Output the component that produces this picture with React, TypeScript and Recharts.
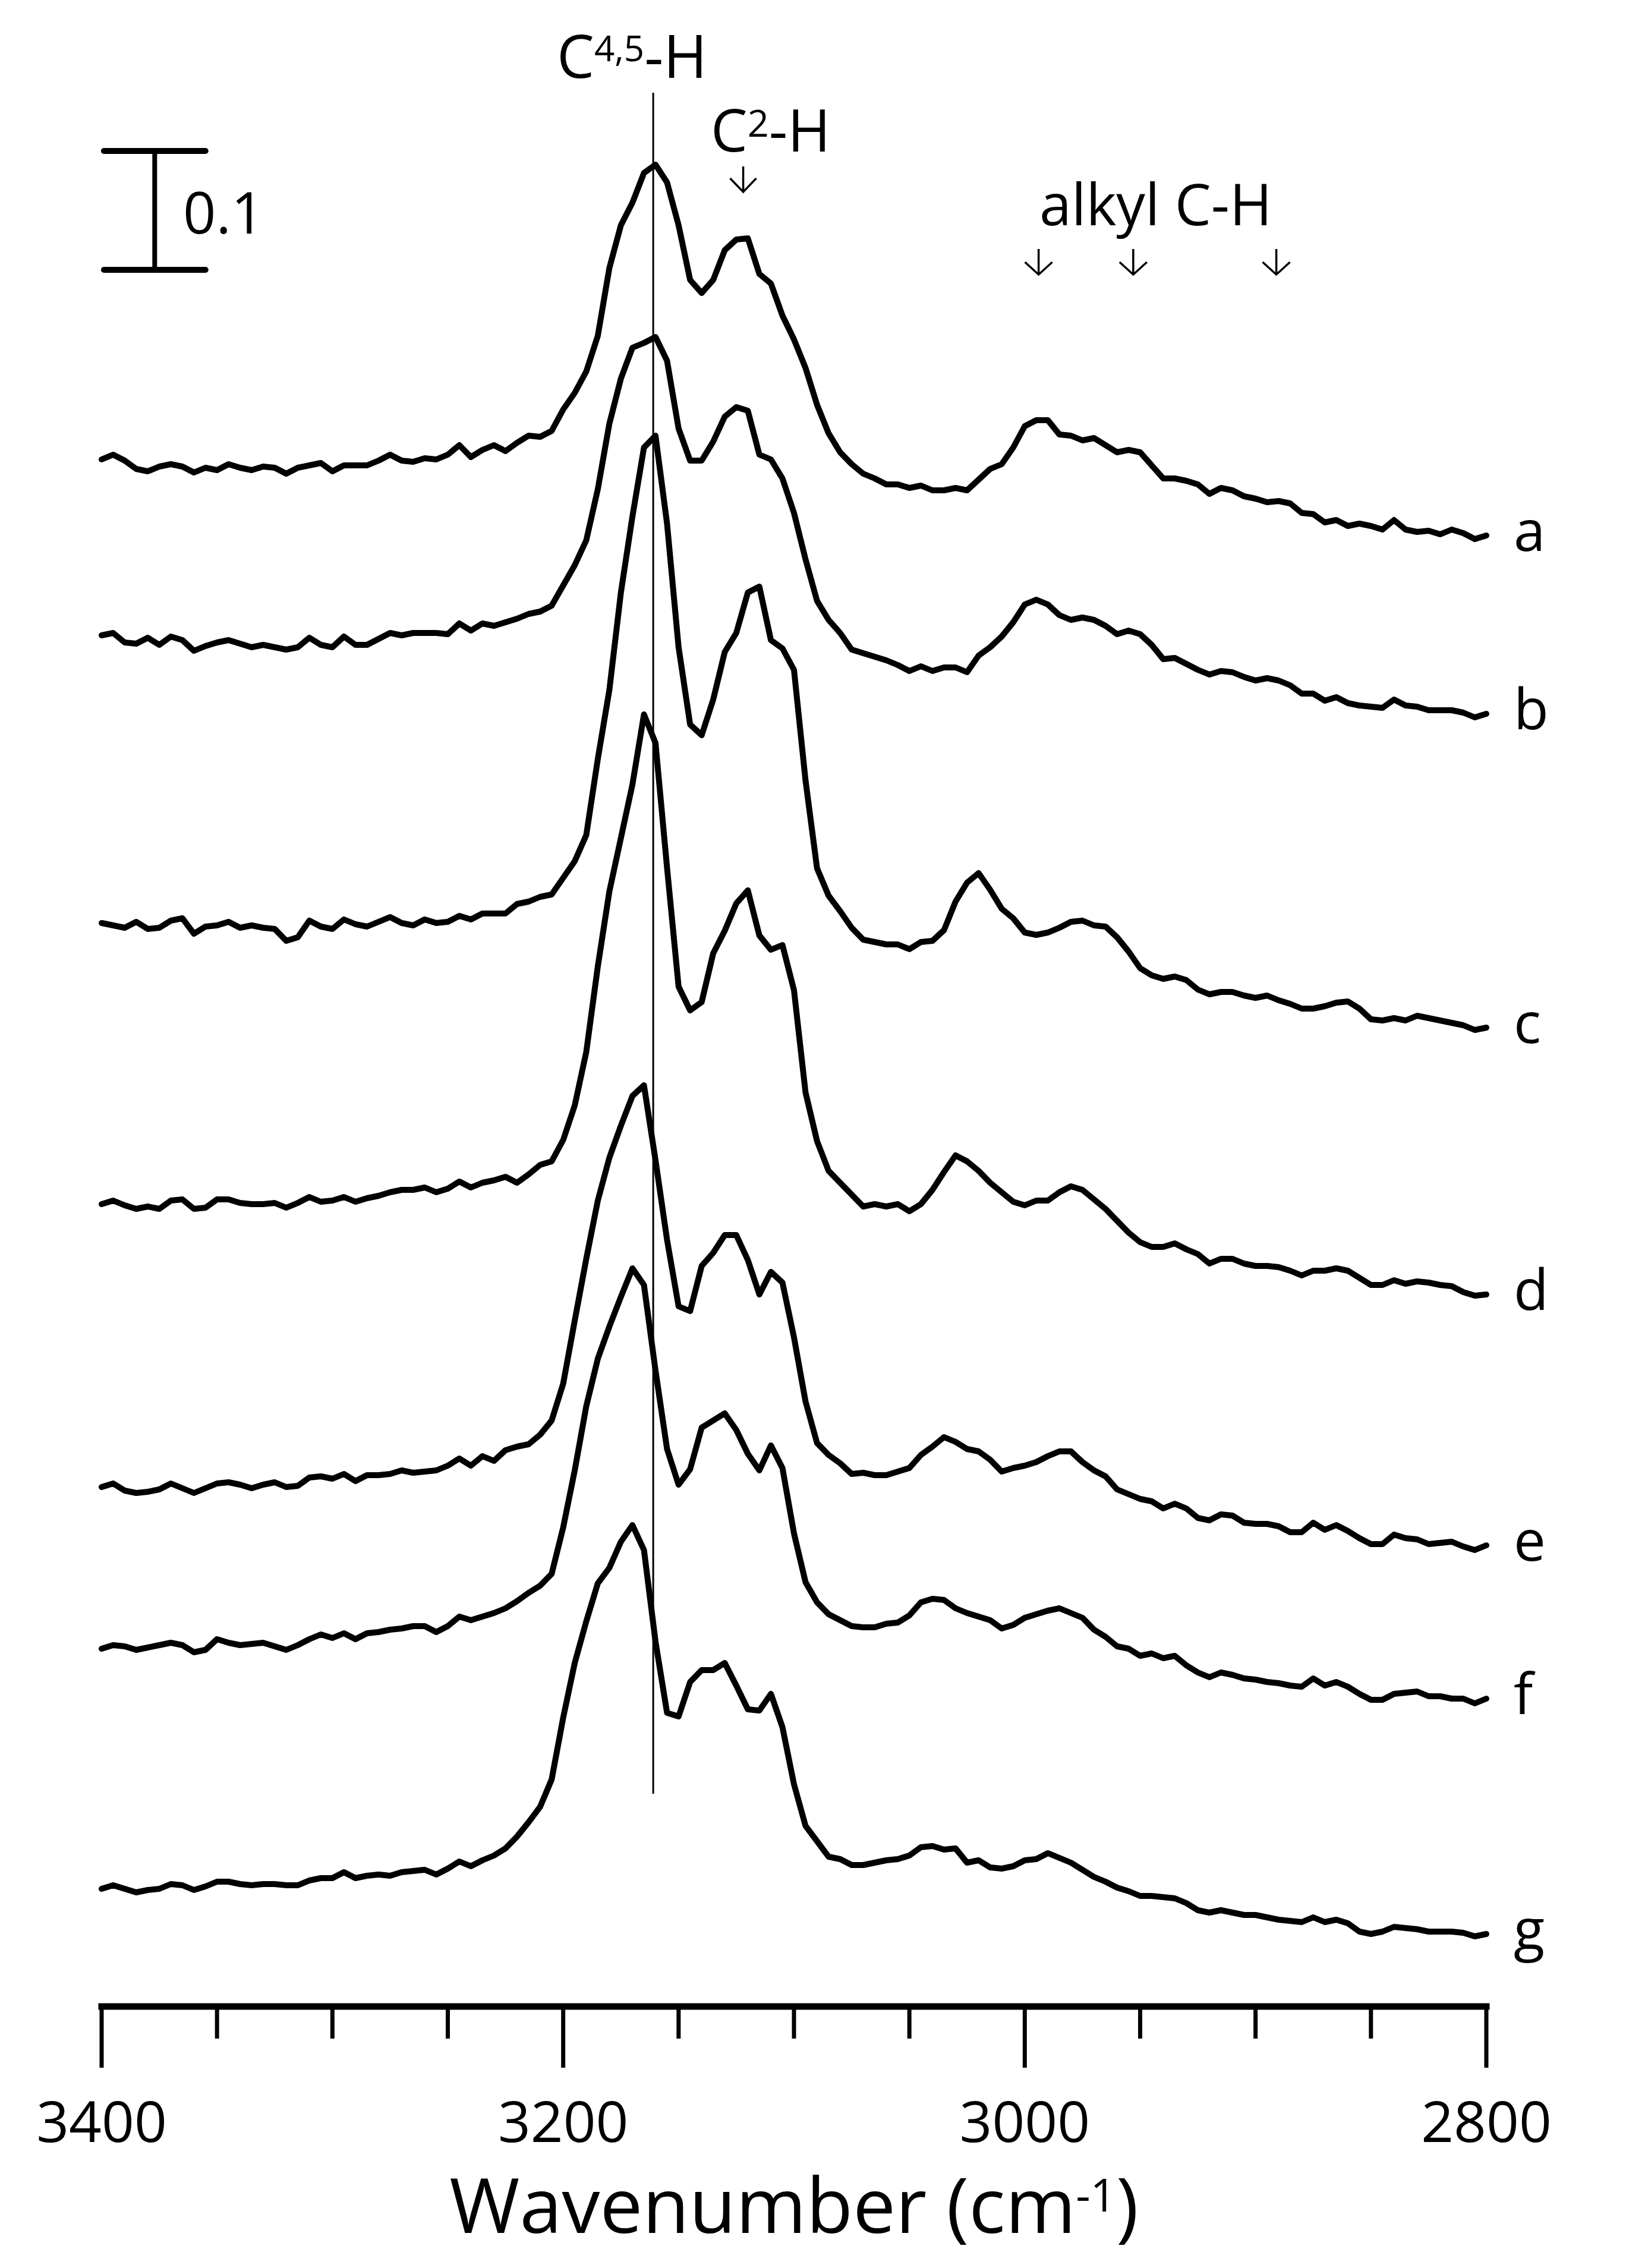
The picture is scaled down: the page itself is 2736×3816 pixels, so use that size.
import React from 'react';
import { LineChart, Line, XAxis, YAxis, ReferenceLine } from 'recharts';

// wavenumber grid (cm-1), 5 cm-1 steps from 3400 down to 2800
const wavenumbers = [
  3400, 3395, 3390, 3385, 3380, 3375, 3370, 3365, 3360, 3355,
  3350, 3345, 3340, 3335, 3330, 3325, 3320, 3315, 3310, 3305,
  3300, 3295, 3290, 3285, 3280, 3275, 3270, 3265, 3260, 3255,
  3250, 3245, 3240, 3235, 3230, 3225, 3220, 3215, 3210, 3205,
  3200, 3195, 3190, 3185, 3180, 3175, 3170, 3165, 3160, 3155,
  3150, 3145, 3140, 3135, 3130, 3125, 3120, 3115, 3110, 3105,
  3100, 3095, 3090, 3085, 3080, 3075, 3070, 3065, 3060, 3055,
  3050, 3045, 3040, 3035, 3030, 3025, 3020, 3015, 3010, 3005,
  3000, 2995, 2990, 2985, 2980, 2975, 2970, 2965, 2960, 2955,
  2950, 2945, 2940, 2935, 2930, 2925, 2920, 2915, 2910, 2905,
  2900, 2895, 2890, 2885, 2880, 2875, 2870, 2865, 2860, 2855,
  2850, 2845, 2840, 2835, 2830, 2825, 2820, 2815, 2810, 2805,
  2800,
];

// absorbance x1000, relative to each spectrum's value at 3400 cm-1
const specA = [
  0, 4, -1, -8, -10, -6, -4, -6, -11, -7,
  -9, -4, -7, -9, -6, -7, -12, -7, -5, -3,
  -10, -5, -5, -5, -1, 4, -1, -2, 1, 0,
  4, 12, 2, 8, 12, 7, 14, 20, 19, 24,
  42, 56, 74, 104, 161, 197, 216, 241, 248, 233,
  197, 151, 140, 151, 176, 185, 186, 156, 148, 121,
  101, 77, 46, 22, 6, -4, -12, -16, -21, -21,
  -24, -22, -26, -26, -24, -26, -17, -8, -4, 10,
  28, 33, 33, 21, 20, 16, 18, 12, 6, 8,
  6, -5, -16, -16, -18, -21, -29, -24, -26, -31,
  -33, -36, -35, -37, -45, -46, -53, -51, -56, -54,
  -56, -59, -51, -59, -61, -60, -63, -59, -62, -67,
  -64,
];
const specB = [
  0, 2, -6, -7, -2, -8, -1, -4, -13, -9,
  -6, -4, -7, -10, -8, -10, -12, -10, -2, -8,
  -10, -1, -8, -8, -3, 2, 0, 2, 2, 2,
  1, 10, 4, 10, 8, 11, 14, 18, 20, 25,
  42, 59, 80, 123, 178, 216, 242, 246, 251, 231,
  174, 147, 147, 163, 184, 192, 189, 152, 148, 132,
  103, 64, 29, 13, 2, -12, -15, -18, -21, -25,
  -30, -26, -30, -27, -27, -31, -17, -10, -1, 11,
  26, 30, 26, 17, 13, 15, 13, 8, 1, 4,
  1, -8, -20, -19, -24, -29, -33, -30, -31, -35,
  -38, -36, -38, -42, -49, -49, -55, -52, -57, -59,
  -60, -61, -54, -59, -60, -63, -63, -63, -65, -69,
  -66,
];
const specC = [
  0, -2, -4, 1, -5, -4, 2, 4, -9, -3,
  -2, 1, -4, -2, -4, -5, -15, -12, 2, -3,
  -5, 3, -1, -3, 1, 5, 0, -2, 3, 0,
  1, 6, 3, 8, 8, 8, 16, 18, 22, 24,
  38, 52, 74, 138, 196, 278, 342, 400, 410, 336,
  232, 167, 158, 188, 228, 244, 278, 283, 238, 231,
  213, 120, 46, 23, 10, -4, -14, -16, -18, -18,
  -22, -16, -15, -6, 18, 34, 42, 28, 12, 4,
  -8, -10, -8, -4, 1, 2, -2, -3, -12, -24,
  -38, -44, -47, -45, -48, -56, -60, -58, -58, -61,
  -63, -61, -65, -68, -72, -72, -70, -67, -66, -72,
  -81, -82, -80, -82, -78, -80, -82, -84, -86, -90,
  -88,
];
const specD = [
  0, 3, -1, -4, -2, -4, 3, 4, -4, -3,
  4, 4, 1, 0, 0, 1, -3, 1, 6, 2,
  3, 6, 2, 5, 7, 10, 12, 12, 14, 10,
  13, 19, 14, 18, 20, 23, 18, 25, 33, 36,
  54, 83, 128, 200, 263, 308, 353, 412, 388, 283,
  183, 163, 170, 211, 230, 253, 264, 226, 214, 218,
  180, 94, 53, 28, 18, 8, -2, 0, -2, 0,
  -6, 0, 12, 27, 41, 36, 28, 18, 10, 2,
  -1, 3, 3, 10, 15, 12, 4, -4, -14, -24,
  -32, -36, -36, -33, -38, -42, -50, -46, -46, -50,
  -52, -52, -53, -56, -60, -56, -56, -54, -56, -62,
  -68, -68, -64, -67, -65, -66, -68, -69, -74, -77,
  -76,
];
const specE = [
  0, 3, -3, -5, -4, -2, 3, -1, -5, -1,
  3, 4, 2, -1, 2, 4, 0, 1, 8, 9,
  7, 11, 5, 10, 10, 11, 14, 12, 13, 14,
  18, 24, 18, 26, 22, 31, 34, 36, 44, 56,
  87, 140, 192, 241, 277, 304, 329, 338, 275, 208,
  152, 148, 186, 197, 212, 212, 191, 162, 181, 172,
  126, 72, 37, 27, 20, 11, 12, 10, 10, 13,
  16, 27, 34, 42, 38, 32, 30, 23, 13, 16,
  18, 21, 26, 30, 30, 21, 14, 9, -2, -6,
  -10, -12, -18, -14, -18, -26, -28, -23, -24, -30,
  -31, -31, -33, -38, -38, -30, -36, -32, -37, -43,
  -48, -48, -40, -43, -44, -48, -47, -46, -50, -53,
  -49,
];
const specF = [
  0, 3, 2, -1, 1, 3, 5, 3, -3, -1,
  8, 5, 3, 4, 5, 2, -1, 3, 8, 12,
  9, 13, 8, 13, 14, 16, 17, 19, 19, 14,
  19, 27, 24, 27, 30, 34, 40, 47, 53, 63,
  102, 150, 204, 244, 271, 296, 320, 306, 234, 168,
  138, 151, 186, 192, 198, 184, 164, 150, 171, 152,
  97, 56, 39, 29, 24, 19, 18, 18, 21, 22,
  28, 39, 42, 41, 34, 30, 27, 24, 17, 20,
  26, 29, 32, 34, 30, 26, 16, 10, 2, 0,
  -6, -4, -8, -6, -14, -20, -24, -20, -22, -25,
  -26, -28, -29, -31, -32, -25, -31, -28, -32, -38,
  -43, -43, -38, -37, -36, -40, -40, -42, -42, -46,
  -42,
];
const specG = [
  0, 3, 0, -3, -1, 0, 4, 3, -1, 2,
  6, 6, 4, 3, 4, 4, 3, 3, 7, 9,
  9, 14, 9, 11, 12, 11, 14, 15, 16, 12,
  17, 23, 19, 24, 28, 34, 44, 56, 69, 92,
  144, 190, 225, 257, 270, 292, 306, 285, 208, 148,
  145, 174, 184, 184, 190, 171, 151, 150, 164, 136,
  88, 53, 40, 27, 25, 20, 20, 22, 24, 25,
  28, 35, 36, 33, 34, 22, 24, 18, 17, 19,
  24, 25, 30, 26, 22, 16, 10, 6, 1, -2,
  -6, -6, -7, -8, -12, -18, -20, -18, -20, -22,
  -22, -24, -26, -27, -28, -24, -28, -26, -29, -36,
  -38, -36, -32, -33, -34, -36, -36, -36, -37, -40,
  -38,
];

// vertical stacking offsets (absorbance x1000)
const spectrumNames = ['a', 'b', 'c', 'd', 'e', 'f', 'g'];
const spectrumOffsets = [1301.5, 1153.5, 911.5, 675, 437, 301, 99];
const spectra = [specA, specB, specC, specD, specE, specF, specG];

const xTicks = [3400, 3350, 3300, 3250, 3200, 3150, 3100, 3050, 3000, 2950, 2900, 2850, 2800];
const xTickLabels = [3400, 3200, 3000, 2800];

// band markers (cm-1)
const c45Band = 3161;
const c2Band = 3122;
const alkylBands = [2994, 2953, 2891];

const data = wavenumbers.map((wn, i) => {
  const row: Record<string, number> = { wn };
  spectrumNames.forEach((name, k) => {
    row[name] = spectrumOffsets[k] + spectra[k][i];
  });
  return row;
});

const W = 2736;
const H = 3816;
const margin = { top: 76, right: 235, bottom: 140, left: 171 };
const font = "'Open Sans', 'Noto Sans', sans-serif";

// same linear map as the x axis, for the annotation layer
const plotW = W - margin.left - margin.right;
const wx = (w: number) => margin.left + ((3400 - w) * plotW) / 600;

const AxisTick = (props: any) => {
  const { x, y, payload } = props;
  const major = xTickLabels.includes(payload.value);
  return (
    <g>
      <line x1={x} x2={x} y1={y} y2={y + (major ? 103 : 54)} stroke="#000" strokeWidth={7} />
      {major && (
        <text x={x} y={y + 228} textAnchor="middle" fontSize={96} fontFamily={font} fill="#000">
          {payload.value}
        </text>
      )}
    </g>
  );
};

const AxisTitle = (props: any) => {
  const vb = props.viewBox || {};
  const cx = vb.x + vb.width / 2;
  return (
    <text x={cx} y={vb.y + 381} textAnchor="middle" fontSize={128} fontFamily={font} fill="#000">
      Wavenumber (cm
      <tspan fontSize={76} dy={-36}>-1</tspan>
      <tspan dy={36}>)</tspan>
    </text>
  );
};

const endLabel = (name: string) => (props: any) => {
  const { index } = props;
  if (index !== wavenumbers.length - 1) return null;
  const x = props.x ?? props.viewBox?.x;
  const y = props.y ?? props.viewBox?.y;
  return (
    <text key={name} x={x + 46} y={y + 26} fontSize={96} fontFamily={font} fill="#000">
      {name}
    </text>
  );
};

const Arrow = ({ w, top, tip, wing, half }: { w: number; top: number; tip: number; wing: number; half: number }) => {
  const x = wx(w);
  return (
    <path
      d={`M${x},${top} L${x},${tip} M${x - half},${wing} L${x},${tip} L${x + half},${wing}`}
      stroke="#000"
      strokeWidth={3.5}
      fill="none"
    />
  );
};

export default function App() {
  return (
    <div style={{ position: 'relative', width: W, height: H, background: '#fff' }}>
      <style>{'body{margin:0;background:#fff}'}</style>
      <LineChart width={W} height={H} data={data} margin={margin}>
        <XAxis
          type="number"
          dataKey="wn"
          domain={[2800, 3400]}
          reversed
          ticks={xTicks}
          interval={0}
          tick={<AxisTick />}
          tickLine={false}
          tickSize={0}
          tickMargin={0}
          height={300}
          axisLine={{ stroke: '#000', strokeWidth: 11, strokeLinecap: 'square' }}
          label={(p: any) => <AxisTitle {...p} />}
        />
        <YAxis hide type="number" domain={[0, 1650]} />
        {/* C4,5-H guide line */}
        <ReferenceLine
          segment={[{ x: c45Band, y: 179 }, { x: c45Band, y: 1610 }]}
          stroke="#000"
          strokeWidth={3}
          ifOverflow="visible"
        />
        {/* 0.1 absorbance scale bar */}
        <ReferenceLine segment={[{ x: 3377, y: 1461 }, { x: 3377, y: 1561 }]} stroke="#000" strokeWidth={8} ifOverflow="visible" />
        <ReferenceLine segment={[{ x: 3399, y: 1561 }, { x: 3355, y: 1561 }]} stroke="#000" strokeWidth={10} strokeLinecap="round" ifOverflow="visible" />
        <ReferenceLine segment={[{ x: 3399, y: 1461 }, { x: 3355, y: 1461 }]} stroke="#000" strokeWidth={10} strokeLinecap="round" ifOverflow="visible" />
        {spectrumNames.map((name) => (
          <Line
            key={name}
            type="linear"
            dataKey={name}
            stroke="#000"
            strokeWidth={10}
            strokeLinejoin="round"
            strokeLinecap="round"
            dot={false}
            isAnimationActive={false}
            label={endLabel(name)}
          />
        ))}
      </LineChart>
      <svg
        width={W}
        height={H}
        style={{ position: 'absolute', left: 0, top: 0, pointerEvents: 'none' }}
        fontFamily={font}
        fill="#000"
      >
        <text x={937} y={131} fontSize={100}>
          C<tspan fontSize={60} dy={-28}>4,5</tspan>
          <tspan dy={28}>-H</tspan>
        </text>
        <text x={1196} y={255} fontSize={98}>
          C<tspan fontSize={63} dy={-25}>2</tspan>
          <tspan dy={25}>-H</tspan>
        </text>
        <Arrow w={c2Band} top={280} tip={323} wing={300} half={22} />
        <text x={1749} y={379} fontSize={97}>alkyl C-H</text>
        {alkylBands.map((b) => (
          <Arrow key={b} w={b} top={419} tip={462} wing={441} half={23} />
        ))}
        <text x={308} y={393} fontSize={97}>0.1</text>
      </svg>
    </div>
  );
}
